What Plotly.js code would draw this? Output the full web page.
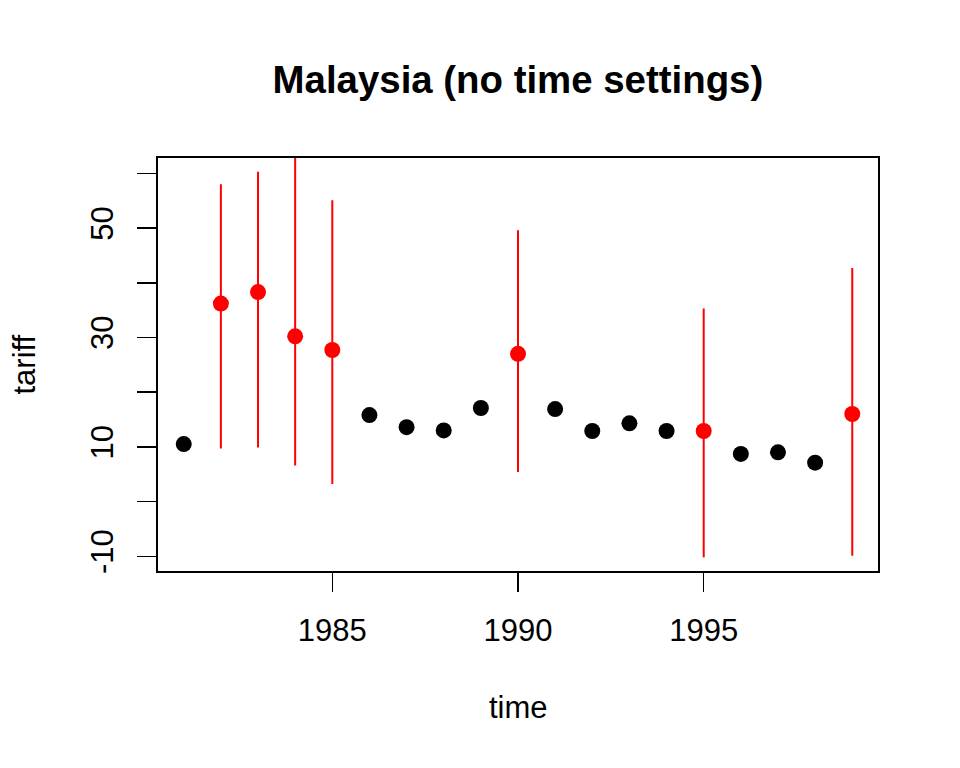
<!DOCTYPE html>
<html>
<head>
<meta charset="utf-8">
<script src="https://cdn.plot.ly/plotly-3.0.1.min.js"></script>
<style>html,body{margin:0;padding:0;background:#fff;}#chart{width:960px;height:768px;}</style>
</head>
<body>
<div id="chart"></div>
<script>
// Observed years and tariff values (black points)
var obsYears = [1981, 1986, 1987, 1988, 1989, 1991, 1992, 1993, 1994, 1996, 1997, 1998];
var obsTariff = [10.5, 15.8, 13.6, 13.0, 17.1, 16.9, 12.9, 14.3, 12.9, 8.7, 9.0, 7.1];

// Imputed years (red points) with upper/lower interval limits
var impYears = [1982, 1983, 1984, 1985, 1990, 1995, 1999];
var impTariff = [36.2, 38.3, 30.2, 27.7, 27.0, 12.9, 16.0];
var impUpper = [58.0, 60.3, 66.0, 55.1, 49.6, 35.3, 42.7];
var impLower = [9.7, 9.9, 6.6, 3.2, 5.4, -10.2, -9.9];

var yTickVals = [-10, 0, 10, 20, 30, 40, 50, 60];
var yTickText = ['-10', '', '10', '', '30', '', '50', ''];
var xTickVals = [1985, 1990, 1995];

var errPlus = impUpper.map(function (u, i) { return u - impTariff[i]; });
var errMinus = impLower.map(function (l, i) { return impTariff[i] - l; });

var font = 'Liberation Sans, Arial, Helvetica, sans-serif';

var traces = [
  {
    x: obsYears, y: obsTariff, type: 'scatter', mode: 'markers',
    marker: {color: 'black', size: 16},
    hoverinfo: 'x+y', showlegend: false
  },
  {
    x: impYears, y: impTariff, type: 'scatter', mode: 'markers',
    marker: {color: 'red', size: 16},
    error_y: {type: 'data', symmetric: false, array: errPlus, arrayminus: errMinus,
              color: 'red', thickness: 2, width: 0},
    hoverinfo: 'x+y', showlegend: false
  }
];

var layout = {
  width: 960, height: 768,
  margin: {l: 157, r: 81, t: 157, b: 196, pad: 0},
  paper_bgcolor: 'white', plot_bgcolor: 'white',
  font: {family: font, size: 31, color: 'black'},
  title: {
    text: '<b>Malaysia (no time settings)</b>',
    font: {family: font, size: 38.4, color: 'black'},
    x: 0.5395, xref: 'container', xanchor: 'center',
    y: 0.897, yref: 'container', yanchor: 'middle'
  },
  xaxis: {
    range: [1980.28, 1999.72],
    tickvals: xTickVals, ticktext: xTickVals.map(String),
    ticks: 'outside', ticklen: 19, tickwidth: 1.5, tickcolor: 'black',
    ticklabelstandoff: 12,
    showgrid: false, zeroline: false, showline: false,
    tickfont: {family: font, size: 31, color: 'black'}
  },
  yaxis: {
    range: [-12.88, 62.99],
    tickvals: yTickVals, ticktext: yTickText, tickangle: -90,
    ticks: 'outside', ticklen: 19, tickwidth: 1.5, tickcolor: 'black',
    ticklabelstandoff: 12,
    showgrid: false, zeroline: false, showline: false,
    tickfont: {family: font, size: 31, color: 'black'}
  },
  shapes: [
    {type: 'rect', xref: 'paper', yref: 'paper', x0: 0, x1: 1, y0: 0, y1: 1,
     line: {color: 'black', width: 2}, fillcolor: 'rgba(0,0,0,0)', layer: 'above'}
  ],
  annotations: [
    {text: 'time', xref: 'paper', yref: 'paper', x: 0.5, y: -0.3277,
     xanchor: 'center', yanchor: 'middle', showarrow: false,
     font: {family: font, size: 31, color: 'black'}},
    {text: 'tariff', xref: 'paper', yref: 'paper', x: -0.1842, y: 0.5,
     xanchor: 'center', yanchor: 'middle', showarrow: false, textangle: -90,
     font: {family: font, size: 31, color: 'black'}}
  ]
};

Plotly.newPlot('chart', traces, layout, {displayModeBar: false, staticPlot: true});
</script>
</body>
</html>
